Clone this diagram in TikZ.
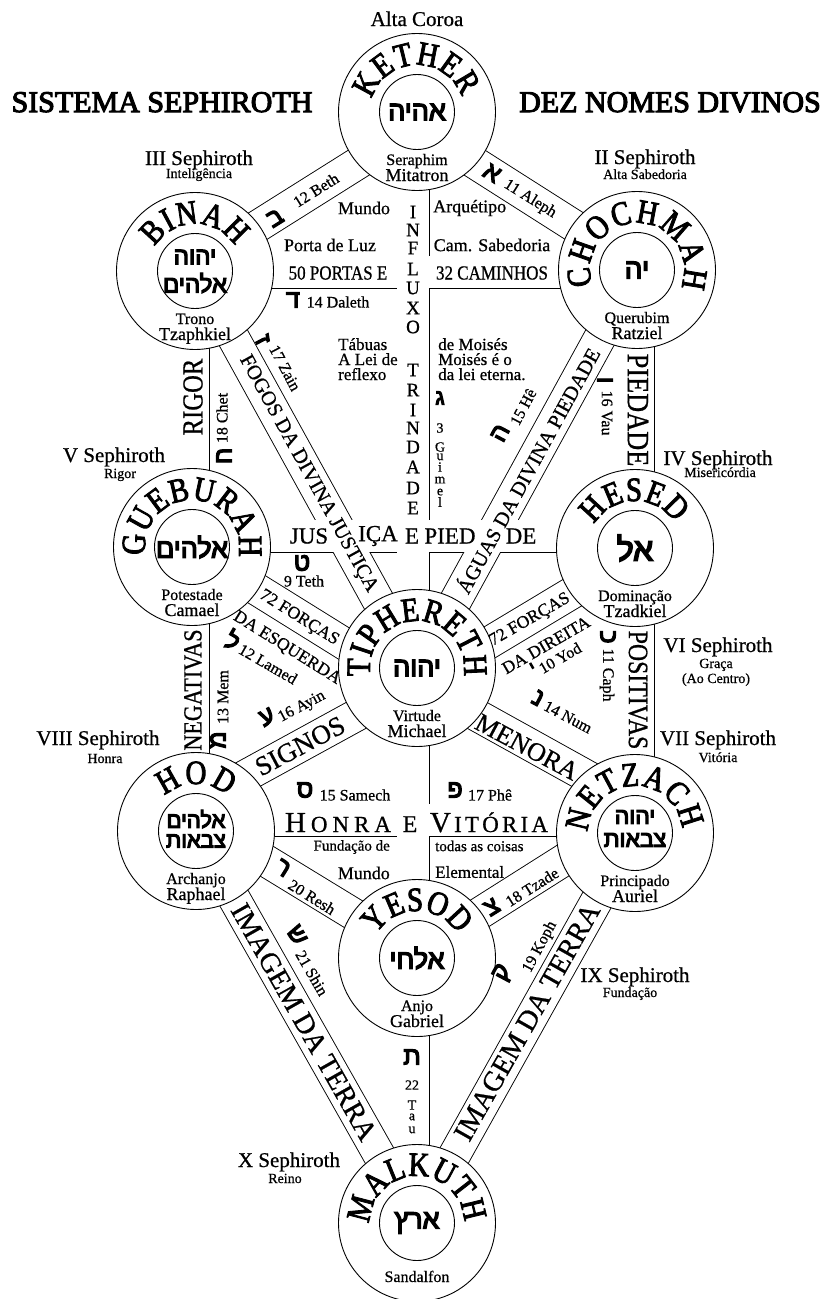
\documentclass[tikz,border=0pt]{standalone}
\usepackage{fontspec}
\setmainfont{Liberation Serif}[FakeBold=0.7]
\newfontfamily\hebf{Liberation Sans}[Script=Hebrew,FakeBold=5]
\newfontfamily\capf{Liberation Serif}[FakeStretch=0.85,FakeBold=0.7]
\newfontfamily\namefam{Liberation Serif}[FakeStretch=0.85,FakeBold=2.5]
\newfontfamily\titf{Liberation Serif}[FakeBold=3.5]
\TeXXeTstate=1
\usetikzlibrary{decorations.text}
\newcommand\fsz[1]{\fontsize{#1}{#1}\selectfont}
\newcommand\hbw[2]{{\hebf\fsz{#1}\beginR#2\endR}}
\newcommand\namef{\namefam\fsz{34}}
\newcommand\arcname[4]{\path[decorate,decoration={text along path,text={|\namef|#4},text align={fit to path}}] (#1.center) ++(#2:47) arc[start angle=#2,end angle=#3,radius=47];}
\newcommand\subl[3]{\node[anchor=base,font=\fsz{16},inner sep=0pt] (#1s1) at ([yshift=-53pt]#1.center) {#2};
 \node[anchor=base,font=\fsz{18},inner sep=0pt] (#1s2) at ([yshift=-69pt]#1.center) {#3};}
\begin{document}
\begin{tikzpicture}[x=1pt,y=1pt,
 outerc/.style={circle,draw,line width=0.9pt,fill=white,minimum size=157pt,inner sep=0pt},
 innerc/.style={circle,draw,line width=0.9pt,minimum size=75pt,inner sep=0pt},
 every node/.append style={inner sep=0pt},
 sl/.style={anchor=base,font=\fsz{21}},
 ss/.style={anchor=base,font=\fsz{14}},
 nl/.style={font=\fsz{16}},
 hl/.style={font=\hebf\fsz{25}},
 ml/.style={font=\fsz{18}},
 tl/.style={anchor=base west,font=\fsz{17}},
 cl/.style={font=\capf\fsz{20}},
 vl/.style={font=\capf\fsz{29}},
 jl/.style={font=\fsz{23}},
 fl/.style={font=\fsz{20.5}},
 dl/.style={font=\fsz{17.5}},
 gl/.style={font=\fsz{27}},
 il/.style={font=\fsz{28.5}},
 inf/.style={font=\fsz{19}},
 sm/.style={font=\fsz{14}}]
\useasboundingbox (0,0) rectangle (832,-1299);
\fill[white] (0,0) rectangle (832,-1299);
% path end points
\coordinate (kh) at (417,-126);
\coordinate (kc) at (413,-111);
\coordinate (cha) at (637,-266);
\coordinate (bib) at (196,-265);
\coordinate (tc) at (413,-668);
\coordinate (bd) at (196,-272);
\coordinate (cd) at (637,-272);
\coordinate (cc) at (637,-270);
\coordinate (the) at (411,-682);
\coordinate (bc) at (196,-270);
\coordinate (tz) at (423,-682);
\coordinate (cv) at (638,-270);
\coordinate (hv) at (638,-548);
\coordinate (bv) at (193,-270);
\coordinate (gv) at (193,-547);
\coordinate (gt) at (192,-536);
\coordinate (ht) at (635,-536);
\coordinate (hy) at (635,-555);
\coordinate (ty) at (417,-686);
\coordinate (gll) at (192,-549);
\coordinate (tll) at (417,-689);
\coordinate (nv) at (638,-832);
\coordinate (hdv) at (193,-831);
\coordinate (tn) at (417,-682);
\coordinate (nn) at (635,-803);
\coordinate (yc) at (413,-958);
\coordinate (ha) at (196,-803);
\coordinate (hp) at (196,-820);
\coordinate (np) at (635,-820);
\coordinate (ntz) at (635,-815);
\coordinate (ytz) at (417,-953);
\coordinate (nq) at (635,-832);
\coordinate (mq) at (417,-1222);
\coordinate (hr) at (196,-818);
\coordinate (hs) at (196,-831);
\coordinate (mc) at (413,-1222);
\def\treepaths{%
 \draw (kh)--(cha); \draw (kh)--(bib); \draw (kc)--(tc); \draw (bd)--(cd);
 \draw (cc)--(the); \draw (bc)--(tz); \draw (cv)--(hv); \draw (bv)--(gv);
 \draw (gt)--(ht); \draw (hy)--(ty); \draw (gll)--(tll); \draw (hv)--(nv);
 \draw (gv)--(hdv); \draw (tn)--(nn); \draw (tc)--(yc); \draw (tn)--(ha);
 \draw (hp)--(np); \draw (ntz)--(ytz); \draw (nq)--(mq); \draw (hr)--(ytz);
 \draw (hs)--(mq); \draw (yc)--(mc);}
\begin{scope}[line width=33pt] \treepaths \end{scope}
\begin{scope}[line width=31.2pt,white] \treepaths \end{scope}
% sephiroth
\foreach \n/\x/\y in {K/417/112,Ch/637/270,Bi/195/271,Ge/192/547,He/635/548,Ti/417/668,Ho/196/831,Ne/635/833,Ye/417/958,Ma/417/1223}{
 \node[outerc] (\n) at (\x,-\y) {};
 \node[innerc] (\n i) at (\n.center) {};}
% hebrew names in inner circles
\node (hK) at (K.center) {\hbw{27}{אהיה}};
\node (hCh) at (Ch.center) {\hbw{28}{יה}};
\node (hBi1) at ([yshift=14pt]Bi.center) {\hbw{24}{יהוה}};
\node (hBi2) at ([yshift=-12pt]Bi.center) {\hbw{24}{אלהים}};
\node (hGe) at (Ge.center) {\hbw{27}{אלהים}};
\node (hHe) at (He.center) {\hbw{32}{אל}};
\node (hTi) at (Ti.center) {\hbw{27}{יהוה}};
\node (hHo1) at ([yshift=12pt]Ho.center) {\hbw{22}{אלהים}};
\node (hHo2) at ([yshift=-10pt]Ho.center) {\hbw{22}{צבאות}};
\node (hNe1) at ([yshift=16pt]Ne.center) {\hbw{23}{יהוה}};
\node (hNe2) at ([yshift=-7pt]Ne.center) {\hbw{23}{צבאות}};
\node (hYe) at (Ye.center) {\hbw{27}{אלחי}};
\node (hMa) at (Ma.center) {\hbw{27}{ארץ}};
% names along arcs
\arcname{K}{164}{19}{KETHER}
\arcname{Bi}{149}{32}{BINAH}
\arcname{Ch}{199}{-22}{CHOCHMAH}
\arcname{Ge}{190}{-12}{GUEBURAH}
\arcname{He}{150}{32}{HESED}
\arcname{Ti}{190}{-10}{TIPHERETH}
\arcname{Ho}{132}{48}{HOD}
\arcname{Ne}{179}{5}{NETZACH}
\arcname{Ye}{150}{30}{YESOD}
\arcname{Ma}{181}{1}{MALKUTH}
% texts inside circles
\subl{K}{Seraphim}{Mitatron}
\subl{Bi}{Trono}{Tzaphkiel}
\subl{Ch}{Querubim}{Ratziel}
\subl{Ge}{Potestade}{Camael}
\subl{He}{Dominação}{Tzadkiel}
\subl{Ti}{Virtude}{Michael}
\subl{Ho}{Archanjo}{Raphael}
\subl{Ne}{Principado}{Auriel}
\subl{Ye}{Anjo}{Gabriel}
\node[anchor=base,font=\fsz{16}] (Mas) at ([yshift=-59pt]Ma.center) {Sandalfon};
% headings
\node[anchor=base,font=\fsz{21}] (altac) at (417,-26) {Alta Coroa};
\node[anchor=base,font=\titf\fsz{30}] (tit1) at (162,-112) {SISTEMA SEPHIROTH};
\node[anchor=base,font=\titf\fsz{30}] (tit2) at (670,-112) {DEZ NOMES DIVINOS};
% sephiroth labels
\node[sl] (l3) at (199,-165) {III Sephiroth}; \node[ss] (l3s) at (199,-178) {Inteligência};
\node[sl] (l2) at (645,-164) {II Sephiroth}; \node[ss] (l2s) at (645,-179) {Alta Sabedoria};
\node[sl] (l5) at (114,-462) {V Sephiroth}; \node[ss] (l5s) at (120,-478) {Rigor};
\node[sl] (l4) at (718,-465) {IV Sephiroth}; \node[ss] (l4s) at (720,-477) {Misericórdia};
\node[sl] (l6) at (718,-652) {VI Sephiroth}; \node[ss] (l6s) at (716,-668) {Graça};
\node[ss] (l6t) at (716,-683) {(Ao Centro)};
\node[sl] (l8) at (98,-745) {VIII Sephiroth}; \node[ss] (l8s) at (105,-763) {Honra};
\node[sl] (l7) at (718,-745) {VII Sephiroth}; \node[ss] (l7s) at (718,-762) {Vitória};
\node[sl] (l9) at (635,-982) {IX Sephiroth}; \node[ss] (l9s) at (630,-997) {Fundação};
\node[sl] (l10) at (289,-1167) {X Sephiroth}; \node[ss] (l10s) at (285,-1183) {Reino};
% upper triad texts
\node[nl,rotate=32] (t12) at (316,-190) {12 Beth};
\node[hl,rotate=32] (h12) at (275,-218) {ב};
\node[nl,rotate=-32] (t11) at (530,-199) {11 Aleph};
\node[hl,rotate=-32] (h11) at (492,-173) {א};
\node[ml] (mundo1) at (364,-208) {Mundo};
\node[ml] (porta) at (330,-245) {Porta de Luz};
\node[ml,anchor=west] (arq) at (433,-208) {Arquétipo};
\node[ml] (cams) at (492,-245) {Cam. Sabedoria};
\node[cl] (p50) at (338,-273) {50 PORTAS E};
\node[cl] (c32) at (492,-273) {32 CAMINHOS};
\node[nl] (t14) at (338,-302) {14 Daleth};
\node[hl] (h14) at (293,-300) {ד};
\node[tl] (tab1) at (338,-350) {Tábuas};
\node[tl] (tab2) at (338,-365) {A Lei de};
\node[tl] (tab3) at (338,-380) {reflexo};
\node[tl] (mo1) at (438,-350) {de Moisés};
\node[tl] (mo2) at (438,-365) {Moisés é o};
\node[tl] (mo3) at (438,-380) {da lei eterna.};
\foreach \l/\yy [count=\i] in {I/212,N/230,F/248,L/269,U/288,X/308,O/327,T/370,R/390,I/410,N/428,D/447,A/467,D/488,E/508}
 \node[inf] (inf\i) at (413,-\yy) {\l};
\node[hl,font=\hebf\fsz{22}] (h13) at (440,-398) {ג};
\foreach \l/\yy [count=\i] in {3/428,G/447,u/457,i/467,m/480,e/492,l/502}
 \node[sm] (gm\i) at (440,-\yy) {\l};
\node[nl,rotate=-62] (t17) at (285,-368) {17 Zain};
\node[hl,rotate=-62] (h17) at (263,-340) {ז};
\node[nl,rotate=62] (t15) at (523,-407) {15 Hê};
\node[hl,rotate=62] (h15) at (500,-433) {ה};
\node[nl,rotate=-90] (t16) at (607,-413) {16 Vau};
\node[hl,rotate=-90] (h16) at (605,-380) {ו};
\node[nl,rotate=90] (t18) at (222,-418) {18 Chet};
\node[hl,rotate=90] (h18) at (224,-456) {ח};
\node[vl,rotate=90] (rigor) at (193,-397) {RIGOR};
\node[vl,rotate=-90,font=\capf\fsz{31}] (pied) at (638,-410) {PIEDADE};
\node[fl,rotate=-61.2] (fogos) at (308,-474) {FOGOS DA DIVINA JUSTIÇA};
\node[fl,rotate=61.3] (aguas) at (527,-470) {ÁGUAS DA DIVINA PIEDADE};
% middle
\node[jl] (jus) at (309,-536) {JUS};
\node[jl] (ica) at (378,-536) {IÇA};
\node[jl] (e1) at (412,-536) {E};
\node[jl] (pied2) at (450,-536) {PIED};
\node[jl] (de) at (521,-536) {DE};
\node[nl] (t9) at (304,-581) {9 Teth};
\node[hl] (h9) at (302,-563) {ט};
\node[dl,rotate=-32] (f72a) at (299,-618) {72 FORÇAS};
\node[dl,rotate=-32] (esq) at (287,-648) {DA ESQUERDA};
\node[nl,rotate=-30] (t12l) at (268,-664) {12 Lamed};
\node[hl,rotate=-30] (h12l) at (233,-640) {ל};
\node[dl,rotate=30] (f72b) at (530,-620) {72 FORÇAS};
\node[dl,rotate=30] (dir) at (546,-645) {DA DIREITA};
\node[nl,rotate=30] (t10) at (560,-658) {10 Yod};
\node[hl,rotate=30,font=\hebf\fsz{18}] (h10) at (533,-668) {י};
\node[vl,rotate=90,font=\capf\fsz{26}] (neg) at (193,-690) {NEGATIVAS};
\node[nl,rotate=90] (t13) at (223,-697) {13 Mem};
\node[hl,rotate=90] (h13m) at (218,-740) {מ};
\node[vl,rotate=-90,font=\capf\fsz{28}] (pos) at (638,-690) {POSITIVAS};
\node[nl,rotate=-90] (t11c) at (607,-675) {11 Caph};
\node[hl,rotate=-90] (h11c) at (608,-637) {כ};
\node[nl,rotate=28] (t16a) at (302,-707) {16 Ayin};
\node[hl,rotate=28] (h16a) at (267,-717) {ע};
\node[gl,rotate=28] (signos) at (300,-746) {SIGNOS};
\node[gl,rotate=-28,font=\fsz{26}] (menora) at (527,-747) {MENORA};
\node[nl,rotate=-28] (t14n) at (568,-717) {14 Num};
\node[hl,rotate=-28] (h14n) at (538,-698) {נ};
% lower
\node[nl] (t15s) at (355,-795) {15 Samech};
\node[hl] (h15s) at (305,-790) {ס};
\node[nl] (t17p) at (490,-795) {17 Phê};
\node[hl] (h17p) at (455,-790) {פ};
\node[anchor=base] (honra) at (338,-832) {\makebox[106pt][s]{\fsz{29}H\hfil\fsz{23}O\hfil N\hfil R\hfil A}};
\node[anchor=base,font=\fsz{24}] (e2) at (410,-832) {E};
\node[anchor=base] (vitoria) at (489,-832) {\makebox[118pt][s]{\fsz{29}V\hfil\fsz{23}I\hfil T\hfil Ó\hfil R\hfil I\hfil A}};
\node[anchor=east,font=\fsz{15}] (fund) at (390,-847) {Fundação de};
\node[anchor=east,font=\fsz{18}] (mundo2) at (390,-873) {Mundo};
\node[anchor=west,font=\fsz{15}] (todas) at (435,-846) {todas as coisas};
\node[anchor=west,font=\fsz{17}] (elem) at (435,-872) {Elemental};
\node[nl,rotate=-32] (t20) at (312,-897) {20 Resh};
\node[hl,rotate=-32] (h20) at (283,-868) {ר};
\node[nl,rotate=32] (t18t) at (532,-887) {18 Tzade};
\node[hl,rotate=32] (h18t) at (492,-907) {צ};
\node[nl,rotate=-60] (t21) at (312,-973) {21 Shin};
\node[hl,rotate=-60] (h21) at (297,-935) {ש};
\node[nl,rotate=62] (t19) at (540,-947) {19 Koph};
\node[hl,rotate=62] (h19) at (503,-973) {ק};
\node[il,rotate=-60.5] (img1) at (304,-1022) {IMAGEM DA TERRA};
\node[il,rotate=60.5] (img2) at (527,-1022) {IMAGEM DA TERRA};
\node[hl] (h22) at (412,-1057) {ת};
\foreach \l/\yy [count=\i] in {22/1085,T/1105,a/1117,u/1130}
 \node[sm] (tau\i) at (412,-\yy) {\l};
\end{tikzpicture}
\end{document}
